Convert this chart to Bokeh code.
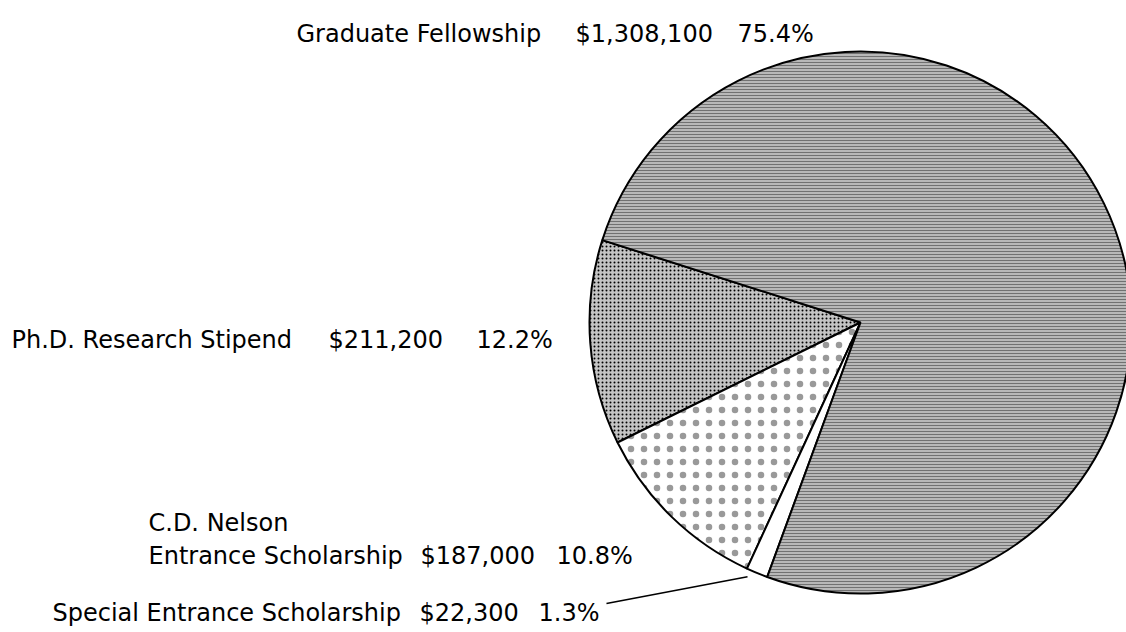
import math
from bokeh.plotting import figure
from bokeh.models import Range1d, ColumnDataSource
from bokeh.core.properties import value
from bokeh.embed import file_html
from bokeh.resources import INLINE

# ---- data ----
categories = ["Ph.D. Research Stipend", "C.D. Nelson\nEntrance Scholarship",
              "Special Entrance Scholarship", "Graduate Fellowship"]
amounts = [211200, 187000, 22300, 1308100]
amount_labels = ["$211,200", "$187,000", "$22,300", "$1,308,100"]
percent_labels = ["12.2%", "10.8%", "1.3%", "75.4%"]

# ---- layout / style ----
W, H = 1126, 632
CX, CY, R = 860, H - 322, 271
START_DEG = 162.3
FONT = value("DejaVu Sans")
FS = "24px"

p = figure(width=W, height=H, x_range=Range1d(0, W), y_range=Range1d(0, H),
           output_backend="svg", toolbar_location=None, min_border=0)
p.axis.visible = False
p.grid.visible = False
p.outline_line_color = None
p.background_fill_color = "white"
p.border_fill_color = "white"

total = sum(amounts)
starts, ends = [], []
a = math.radians(START_DEG)
for v in amounts:
    starts.append(a)
    a += 2 * math.pi * v / total
    ends.append(a)

styles = [
    dict(fill_color="#c4c4c4", hatch_pattern="dot", hatch_scale=4, hatch_color="black",
         hatch_weight=1.0, hatch_alpha=1.0),
    dict(fill_color="white", hatch_pattern="dot", hatch_scale=13, hatch_color="black",
         hatch_weight=0.1, hatch_alpha=0.4),
    dict(fill_color="white"),
    dict(fill_color="#b8b8b8", hatch_pattern="horizontal_line", hatch_scale=3,
         hatch_color="#5e5e5e", hatch_weight=0.8),
]
for i in range(len(amounts)):
    p.wedge(x=[CX], y=[CY], radius=R, start_angle=[starts[i]], end_angle=[ends[i]],
            line_color="black", line_width=2, **styles[i])

# ---- labels (pieces: name, amount, percent) ----
rows = [
    # (text, x, y_px baseline)
    (categories[3], 296, 33), (amount_labels[3], 575, 33), (percent_labels[3], 737, 33),
    (categories[0], 11, 339), (amount_labels[0], 328, 339), (percent_labels[0], 476, 339),
    (categories[1].split("\n")[0], 148, 522),
    (categories[1].split("\n")[1], 148, 555), (amount_labels[1], 420, 555), (percent_labels[1], 556, 555),
    (categories[2], 52, 612), (amount_labels[2], 419, 612), (percent_labels[2], 538, 612),
]
src = ColumnDataSource(dict(x=[r[1] for r in rows], y=[H - r[2] for r in rows],
                            t=[r[0] for r in rows]))
p.text(x="x", y="y", text="t", source=src, text_font=FONT, text_font_size=FS,
       text_color="black", text_align="left", text_baseline="alphabetic")

# leader line for the small slice
mid = (starts[2] + ends[2]) / 2
lx1 = CX + (R + 4) * math.cos(mid) - 8
ly1 = CY + (R + 4) * math.sin(mid)
p.line(x=[606, lx1], y=[H - 603, ly1], line_color="black", line_width=1.5)

open("out.html", "w").write(file_html(p, INLINE))
